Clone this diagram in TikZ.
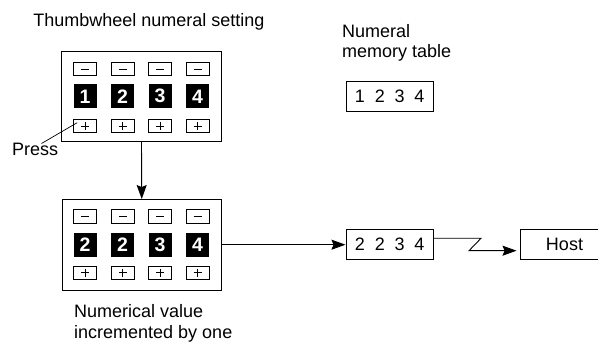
\documentclass[tikz,border=0pt]{standalone}
\usepackage{fontspec}
\setmainfont{Liberation Sans}
\usetikzlibrary{arrows.meta}
\newcommand{\dgap}{\hspace{9.8pt}}
\begin{document}
\begin{tikzpicture}[x=1pt,y=-1pt,
 lbl/.style={font=\fontsize{18}{20}\selectfont, inner sep=0pt},
 panel/.style={draw, line width=0.9pt, minimum width=159.5pt, minimum height=90.5pt, inner sep=0pt},
 key/.style={draw, line width=0.7pt, minimum width=23pt, minimum height=13.5pt, inner sep=0pt},
 dig/.style={fill=black, text=white, minimum width=23pt, minimum height=24pt, inner sep=0pt, font=\fontsize{19.5}{19.5}\bfseries\selectfont},
 mem/.style={draw, line width=0.9pt, minimum width=87.5pt, minimum height=29.5pt, inner sep=0pt, font=\fontsize{18}{20}\selectfont},
 arr/.style={line width=0.9pt, -{Stealth[length=14pt,width=10pt,inset=2pt]}},
 sym/.style={line width=0.7pt}]
\useasboundingbox (0,0) rectangle (598,342);
\begin{scope}
\clip (0,0) rectangle (598,342);
% title
\node[lbl, anchor=base] (title) at (149,26.7) {Thumbwheel numeral setting};
% panels
\node[panel] (top) at (141.5,96.3) {};
\node[panel] (bot) at (141.75,244.75) {};
% keys and digits
\foreach \i/\x/\a/\b in {1/85/1/2,2/122.5/2/2,3/160/3/3,4/197.5/4/4} {
  \node[key] (tm\i) at (\x,69) {};
  \draw[sym] (tm\i.center) +(-4,0) -- +(4,0);
  \node[dig] (td\i) at (\x,96.3) {\a};
  \node[key] (tp\i) at (\x,126) {};
  \draw[sym] (tp\i.center) +(-4,0) -- +(4,0);
  \draw[sym] (tp\i.center) +(0,-4) -- +(0,4);
  \node[key] (bm\i) at (\x,216.5) {};
  \draw[sym] (bm\i.center) +(-4,0) -- +(4,0);
  \node[dig] (bd\i) at (\x,244.7) {\b};
  \node[key] (bp\i) at (\x,272.7) {};
  \draw[sym] (bp\i.center) +(-4,0) -- +(4,0);
  \draw[sym] (bp\i.center) +(0,-4) -- +(0,4);
}
% press
\node[lbl, anchor=base west] (press) at (12,156) {Press};
\coordinate (pr) at (41.5,143.5);
\draw[sym] (pr) -- ([xshift=4pt,yshift=-3.8pt]tp1.north west);
% captions
\node[lbl, anchor=base west] (cap1) at (74,318) {Numerical value};
\node[lbl, anchor=base west] (cap2) at (74,338) {incremented by one};
\node[lbl, anchor=base west] (nm1) at (342,37.3) {Numeral};
\node[lbl, anchor=base west] (nm2) at (342,57.3) {memory table};
% memory boxes
\node[mem] (mem1) at (389.7,96.3) {1\dgap 2\dgap 3\dgap 4};
\node[mem] (mem2) at (389.7,244.7) {2\dgap 2\dgap 3\dgap 4};
\node[mem, minimum width=89pt] (host) at (564.5,244.7) {Host};
% connectors
\draw[arr] (top.south) -- (bot.north);
\draw[arr] (bot.east |- mem2.west) -- (mem2.west);
\coordinate (z1) at (481,238.3);
\coordinate (z2) at (469,250.7);
\draw[arr, shorten >=3pt] ([yshift=6.4pt]mem2.east) -- (z1) -- (z2) -- (z2 -| host.west);
\end{scope}
\end{tikzpicture}
\end{document}
